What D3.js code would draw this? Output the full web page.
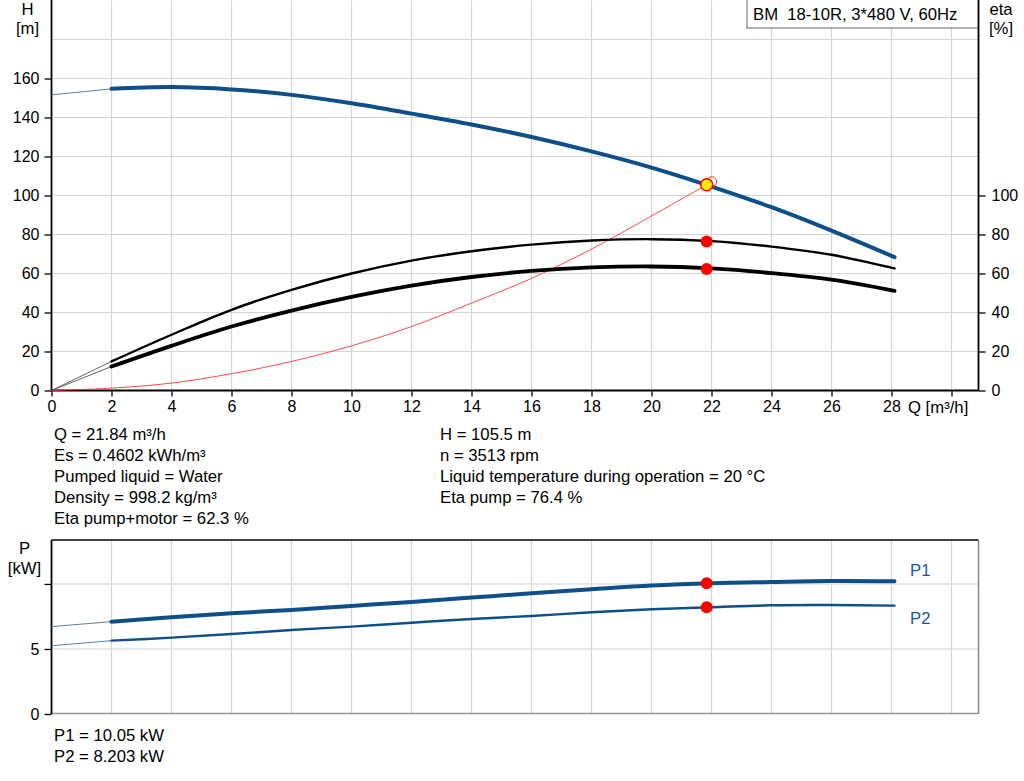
<!DOCTYPE html>
<html>
<head>
<meta charset="utf-8">
<script src="https://cdn.jsdelivr.net/npm/d3@7"></script>
<style>
  html, body { margin: 0; padding: 0; background: #fff; }
  svg { display: block; font-family: "Liberation Sans", Arial, sans-serif; }
  .tick text { font-size: 16px; fill: #000; }
  .tick line { stroke: #000; stroke-width: 1.3; }
  .domain { display: none; }
  text { white-space: pre; }
</style>
</head>
<body>
<svg id="chart" width="1024" height="781"></svg>
<script>
// Pump curve data
const qPoints    = [0, 2, 4, 6, 8, 10, 12, 14, 16, 18, 20, 22, 24, 26, 28.1];
const headValues = [151.6, 154.7, 155.6, 154.4, 151.6, 147.3, 142.0, 136.4, 130.0, 122.6, 114.3, 104.6, 94.0, 82.0, 68.4];
const etaPump    = [0, 14.9, 28.6, 41.4, 51.6, 60.0, 66.6, 71.4, 74.8, 76.9, 77.6, 76.6, 73.8, 69.6, 62.6];
const etaTotal   = [0, 12.3, 22.9, 32.8, 41.0, 48.0, 53.8, 58.2, 61.3, 63.1, 63.6, 62.6, 60.2, 56.8, 51.1];
const p1Values   = [6.72, 7.1, 7.44, 7.75, 8.0, 8.31, 8.62, 8.95, 9.28, 9.59, 9.88, 10.06, 10.15, 10.22, 10.2];
const p2Values   = [5.25, 5.64, 5.87, 6.15, 6.46, 6.72, 7.02, 7.31, 7.54, 7.82, 8.05, 8.21, 8.36, 8.38, 8.33];

// system curve (red) up to the duty point
const qSystem = [0, 2, 4, 6, 8, 10, 12, 14, 16, 18, 20, 21.84];
const hSystem = [0, 1.2, 3.8, 8.6, 14.9, 22.9, 32.8, 44.8, 57.5, 72.5, 89.5, 105.5];

// duty point
const opQ = 21.84, opH = 105.5, opEtaPump = 76.4, opEtaTotal = 62.3, opP1 = 10.05, opP2 = 8.203;

// ticks
const qTicks = [0, 2, 4, 6, 8, 10, 12, 14, 16, 18, 20, 22, 24, 26, 28, 30];
const qTickLabels = [0, 2, 4, 6, 8, 10, 12, 14, 16, 18, 20, 22, 24, 26, 28];
const hTicks = [0, 20, 40, 60, 80, 100, 120, 140, 160];
const hGrid = [20, 40, 60, 80, 100, 120, 140, 160, 180];
const etaTicks = [0, 20, 40, 60, 80, 100];
const pTicks = [0, 5, 10];
const pTickLabels = [0, 5];
const pGrid = [5, 10];

const pumpTitle = 'BM  18-10R, 3*480 V, 60Hz';
const infoLeft = ['Q = 21.84 m³/h', 'Es = 0.4602 kWh/m³', 'Pumped liquid = Water', 'Density = 998.2 kg/m³', 'Eta pump+motor = 62.3 %'];
const infoRight = ['H = 105.5 m', 'n = 3513 rpm', 'Liquid temperature during operation = 20 °C', 'Eta pump = 76.4 %'];
const infoPower = ['P1 = 10.05 kW', 'P2 = 8.203 kW'];

const BLUE = '#0e4f8b';
const GRID = '#d4d4d4';
const FS = 16.7;

const svg = d3.select('#chart');

// scales
const x = d3.scaleLinear().domain([0, 30.9]).range([51.5, 978.5]);
const yH = d3.scaleLinear().domain([0, 200]).range([390.5, 0.5]);
const yEta = yH; // same pixel scale on the right axis
const yP = d3.scaleLinear().domain([0, 13.38]).range([714, 540]);

// ---------- top chart ----------
const topG = svg.append('g');

// grid
topG.append('g').selectAll('line').data(qTicks.filter(d => d > 0)).enter().append('line')
  .attr('x1', d => x(d)).attr('x2', d => x(d)).attr('y1', yH(200)).attr('y2', yH(0))
  .attr('stroke', GRID).attr('stroke-width', 1.2);
topG.append('g').selectAll('line').data(hGrid).enter().append('line')
  .attr('x1', x(0)).attr('x2', x(30.9)).attr('y1', d => yH(d)).attr('y2', d => yH(d))
  .attr('stroke', GRID).attr('stroke-width', 1.2);

// legend box
topG.append('rect').attr('x', 747).attr('y', -1).attr('width', 231.5).attr('height', 29)
  .attr('fill', '#fff').attr('stroke', '#666').attr('stroke-width', 1);
topG.append('text').attr('x', 753).attr('y', 19.5).attr('font-size', FS).text(pumpTitle);

// axes
topG.append('g').attr('transform', `translate(0,${yH(0)})`)
  .call(d3.axisBottom(x).tickValues(qTicks).tickSize(6).tickPadding(4)
    .tickFormat(d => qTickLabels.includes(d) ? d : ''));
topG.append('g').attr('transform', `translate(${x(0)},0)`)
  .call(d3.axisLeft(yH).tickValues(hTicks).tickSize(7).tickPadding(5));
topG.append('g').attr('transform', `translate(${x(30.9)},0)`)
  .call(d3.axisRight(yEta).tickValues(etaTicks).tickSize(7).tickPadding(6));

topG.append('line').attr('x1', x(0)).attr('x2', x(0)).attr('y1', 0).attr('y2', yH(0)).attr('stroke', '#000').attr('stroke-width', 1.8);
topG.append('line').attr('x1', x(30.9)).attr('x2', x(30.9)).attr('y1', 0).attr('y2', yH(0)).attr('stroke', '#000').attr('stroke-width', 1.8);
topG.append('line').attr('x1', x(0)).attr('x2', x(30.9)).attr('y1', yH(0)).attr('y2', yH(0)).attr('stroke', '#000').attr('stroke-width', 1.8);

// axis titles
topG.append('text').attr('x', 27.5).attr('y', 15).attr('text-anchor', 'middle').attr('font-size', FS).text('H');
topG.append('text').attr('x', 27.5).attr('y', 34).attr('text-anchor', 'middle').attr('font-size', FS).text('[m]');
topG.append('text').attr('x', 1001).attr('y', 15).attr('text-anchor', 'middle').attr('font-size', FS).text('eta');
topG.append('text').attr('x', 1001).attr('y', 34).attr('text-anchor', 'middle').attr('font-size', FS).text('[%]');
topG.append('text').attr('x', 908).attr('y', 413).attr('font-size', FS).text('Q [m³/h]');

// curves: thin part from 0 to first measured point, thick part after
function drawSeries(g, values, yScale, color, thinW, thickW, thinColor) {
  const pts = qPoints.map((q, i) => [q, values[i]]);
  const line = d3.line().x(d => x(d[0])).y(d => yScale(d[1])).curve(d3.curveCatmullRom.alpha(0.5));
  g.append('path').attr('d', line(pts.slice(0, 2))).attr('fill', 'none')
    .attr('stroke', thinColor).attr('stroke-width', thinW);
  g.append('path').attr('d', line(pts.slice(1))).attr('fill', 'none')
    .attr('stroke', color).attr('stroke-width', thickW).attr('stroke-linecap', 'round');
}

// red system curve
const sysLine = d3.line().x(d => x(d[0])).y(d => yH(d[1])).curve(d3.curveCatmullRom.alpha(0.5));
topG.append('path').attr('d', sysLine(qSystem.map((q, i) => [q, hSystem[i]])))
  .attr('fill', 'none').attr('stroke', '#ff2a2a').attr('stroke-width', 1).attr('opacity', 0.85);

drawSeries(topG, etaPump, yEta, '#000', 0.9, 2.4, '#555');
drawSeries(topG, etaTotal, yEta, '#000', 0.9, 3.8, '#555');
drawSeries(topG, headValues, yH, BLUE, 1, 4, '#5b7ea3');

// duty point markers
topG.append('circle').attr('cx', x(opQ) + 5).attr('cy', yH(opH) - 3).attr('r', 5)
  .attr('fill', 'none').attr('stroke', '#ff3030').attr('stroke-width', 1);
topG.append('circle').attr('cx', x(opQ)).attr('cy', yH(opH)).attr('r', 6)
  .attr('fill', '#ffee00').attr('stroke', '#ff0000').attr('stroke-width', 1.5);
topG.append('circle').attr('cx', x(opQ)).attr('cy', yEta(opEtaPump)).attr('r', 6).attr('fill', '#ff0000');
topG.append('circle').attr('cx', x(opQ)).attr('cy', yEta(opEtaTotal)).attr('r', 6).attr('fill', '#ff0000');

// info text
infoLeft.forEach((t, i) => {
  svg.append('text').attr('x', 54).attr('y', 440 + i * 21).attr('font-size', FS).text(t);
});
infoRight.forEach((t, i) => {
  svg.append('text').attr('x', 440).attr('y', 440 + i * 21).attr('font-size', FS).text(t);
});

// ---------- bottom chart ----------
const botG = svg.append('g');

botG.append('g').selectAll('line').data(qTicks.filter(d => d > 0)).enter().append('line')
  .attr('x1', d => x(d)).attr('x2', d => x(d)).attr('y1', yP(13.38)).attr('y2', yP(0))
  .attr('stroke', GRID).attr('stroke-width', 1.2);
botG.append('g').selectAll('line').data(pGrid).enter().append('line')
  .attr('x1', x(0)).attr('x2', x(30.9)).attr('y1', d => yP(d)).attr('y2', d => yP(d))
  .attr('stroke', '#e2e2e2').attr('stroke-width', 1.6);

// frame
botG.append('line').attr('x1', x(0)).attr('x2', x(30.9)).attr('y1', yP(13.38)).attr('y2', yP(13.38)).attr('stroke', '#000').attr('stroke-width', 1.5);
botG.append('line').attr('x1', x(30.9)).attr('x2', x(30.9)).attr('y1', yP(13.38)).attr('y2', yP(0)).attr('stroke', '#888').attr('stroke-width', 1.5);
botG.append('line').attr('x1', x(0)).attr('x2', x(30.9)).attr('y1', yP(0) - 0.5).attr('y2', yP(0) - 0.5).attr('stroke', '#999').attr('stroke-width', 1.5);

botG.append('g').attr('transform', `translate(${x(0)},0)`)
  .call(d3.axisLeft(yP).tickValues(pTicks).tickSize(7).tickPadding(5)
    .tickFormat(d => pTickLabels.includes(d) ? d : ''));
botG.append('line').attr('x1', x(0)).attr('x2', x(0)).attr('y1', yP(13.38)).attr('y2', yP(0)).attr('stroke', '#000').attr('stroke-width', 1.8);

botG.append('text').attr('x', 24.5).attr('y', 554).attr('text-anchor', 'middle').attr('font-size', FS).text('P');
botG.append('text').attr('x', 24.5).attr('y', 574).attr('text-anchor', 'middle').attr('font-size', FS).text('[kW]');

drawSeries(botG, p1Values, yP, BLUE, 1, 4, '#5b7ea3');
drawSeries(botG, p2Values, yP, BLUE, 1, 2.4, '#5b7ea3');

botG.append('text').attr('x', 910).attr('y', 576).attr('font-size', FS).attr('fill', '#1a5a9c').text('P1');
botG.append('text').attr('x', 910).attr('y', 624).attr('font-size', FS).attr('fill', '#1a5a9c').text('P2');

botG.append('circle').attr('cx', x(opQ)).attr('cy', yP(opP1)).attr('r', 6).attr('fill', '#ff0000');
botG.append('circle').attr('cx', x(opQ)).attr('cy', yP(opP2)).attr('r', 6).attr('fill', '#ff0000');

infoPower.forEach((t, i) => {
  svg.append('text').attr('x', 54).attr('y', 741 + i * 21).attr('font-size', FS).text(t);
});
</script>
</body>
</html>
